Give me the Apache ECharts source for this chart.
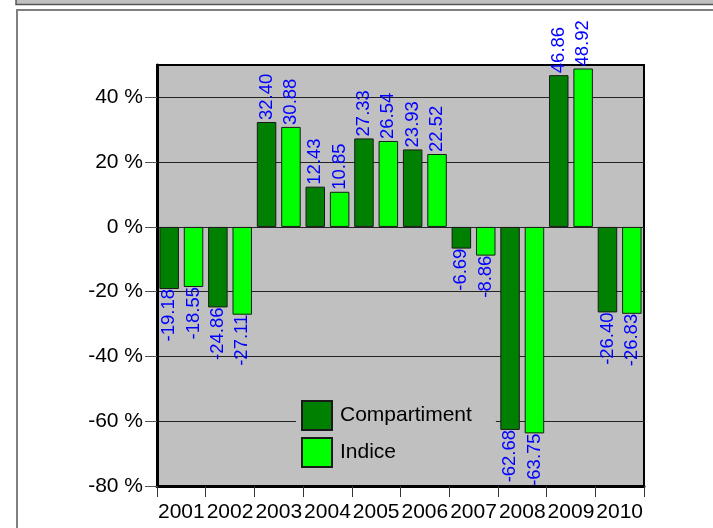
<!DOCTYPE html>
<html>
<head>
<meta charset="utf-8">
<script src="https://cdn.jsdelivr.net/npm/echarts@6/dist/echarts.min.js"></script>
<style>html,body{margin:0;padding:0;background:#fff;}#c{width:713px;height:528px;}</style>
</head>
<body>
<div id="c"></div>
<script>
const categories = ['2001','2002','2003','2004','2005','2006','2007','2008','2009','2010'];
const compartiment = [-19.18, -24.86, 32.40, 12.43, 27.33, 23.93, -6.69, -62.68, 46.86, -26.40];
const indice = [-18.55, -27.11, 30.88, 10.85, 26.54, 22.52, -8.86, -63.75, 48.92, -26.83];
const yTicks = [-80, -60, -40, -20, 0, 20, 40];
const seriesNames = ['Compartiment', 'Indice'];

const FONT = '"Liberation Sans", Arial, sans-serif';

function buildData(values) {
  return values.map(v => ({
    value: v,
    label: v >= 0
      ? { position: 'top', align: 'left', distance: 1 }
      : { position: 'bottom', align: 'right', distance: 1 }
  }));
}

const labelBase = {
  show: true,
  rotate: 90,
  verticalAlign: 'middle',
  color: '#0000ff',
  fontSize: 18.5,
  fontFamily: FONT,
  offset: [1, 0],
  formatter: p => Number(p.value).toFixed(2)
};

const chart = echarts.init(document.getElementById('c'), null, { renderer: 'canvas' });
chart.setOption({
  animation: false,
  backgroundColor: '#ffffff',
  graphic: [
    { type: 'rect', z: -10, shape: { x: 16, y: -2, width: 720, height: 6.5 }, style: { fill: '#c0c0c0', stroke: '#555555', lineWidth: 1.5 } },
    { type: 'rect', z: -10, shape: { x: 17, y: 10, width: 720, height: 540 }, style: { fill: '#ffffff', stroke: '#808080', lineWidth: 2 } }
  ],
  grid: {
    left: 157, right: 69, top: 65, bottom: 42,
    show: true, backgroundColor: '#c0c0c0', borderColor: '#000', borderWidth: 2,
    containLabel: false
  },
  legend: {
    orient: 'vertical',
    left: 296, top: 393,
    backgroundColor: '#c0c0c0',
    padding: [7, 24, 7, 5],
    itemWidth: 30, itemHeight: 29, itemGap: 6,
    icon: 'rect',
    data: seriesNames,
    textStyle: { fontSize: 21, fontFamily: FONT, color: '#000', padding: [0, 0, 0, 3] }
  },
  xAxis: {
    type: 'category',
    data: categories,
    boundaryGap: true,
    axisLine: { onZero: false, lineStyle: { color: '#000', width: 3 } },
    axisTick: { show: true, length: 11, lineStyle: { color: '#333', width: 1 } },
    axisLabel: { fontSize: 21, fontFamily: FONT, color: '#000', margin: 16, interval: 0 },
    splitLine: { show: false }
  },
  yAxis: {
    type: 'value',
    min: -80, max: 50, interval: 20,
    axisLine: { show: true, onZero: false, lineStyle: { color: '#000', width: 3 } },
    axisTick: { show: true, length: 12, customValues: yTicks, lineStyle: { color: '#555', width: 1 } },
    axisLabel: { fontSize: 21, fontFamily: FONT, color: '#000', margin: 14, customValues: yTicks, formatter: v => v + ' %' },
    splitLine: { show: true, lineStyle: { color: '#222', width: 1 } }
  },
  series: [
    {
      name: seriesNames[0], type: 'bar', data: buildData(compartiment),
      barWidth: 19.5, barGap: '25%',
      itemStyle: { color: '#008000', borderColor: '#1a1a1a', borderWidth: 1 },
      label: labelBase
    },
    {
      name: seriesNames[1], type: 'bar', data: buildData(indice),
      barWidth: 19.5, barGap: '25%',
      itemStyle: { color: '#00ff00', borderColor: '#1a1a1a', borderWidth: 1 },
      label: labelBase
    }
  ]
});
</script>
</body>
</html>
